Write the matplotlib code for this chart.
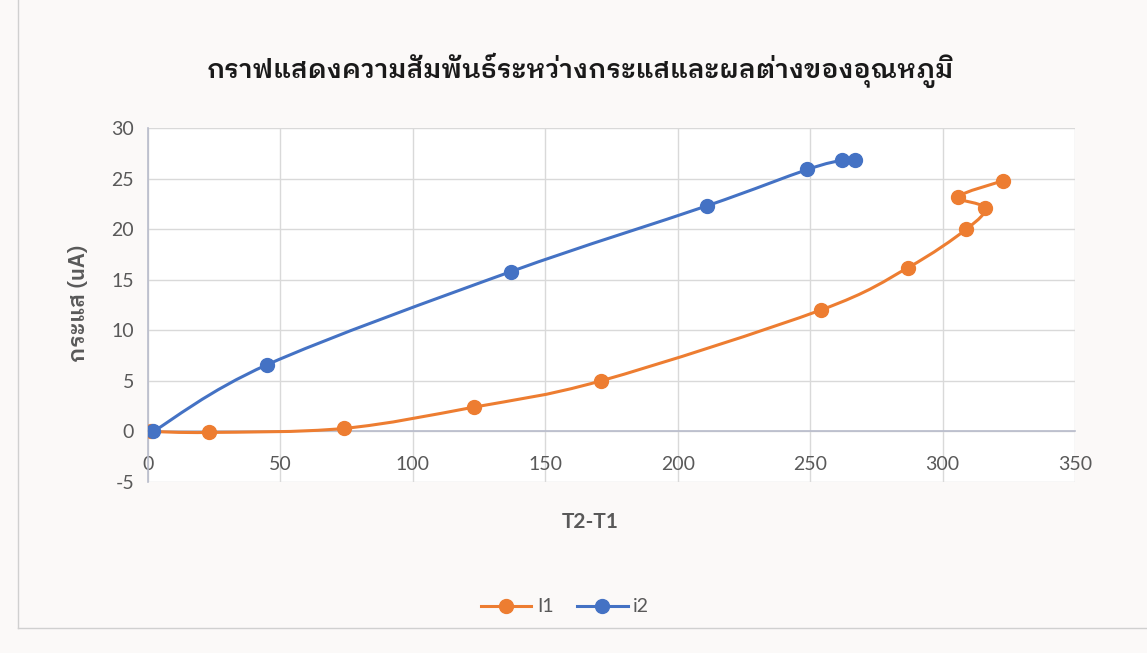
import matplotlib
matplotlib.use("Agg")
import matplotlib.pyplot as plt
from matplotlib import font_manager
from matplotlib.ft2font import FT2Font
from matplotlib.path import Path
from matplotlib.patches import PathPatch
from matplotlib.lines import Line2D

# Series data: temperature difference (T2-T1) vs current (uA)
i1_dt = [1, 23, 74, 123, 171, 254, 287, 309, 316, 306, 323]
i1_cur = [0, -0.1, 0.3, 2.4, 5.0, 12.0, 16.2, 20.0, 22.1, 23.2, 24.8]
i2_dt = [2, 45, 137, 211, 249, 262, 267]
i2_cur = [0, 6.6, 15.8, 22.3, 25.9, 26.8, 26.8]

x_ticks = [0, 50, 100, 150, 200, 250, 300, 350]
y_ticks = [-5, 0, 5, 10, 15, 20, 25, 30]

title = "กราฟแสดงความสัมพันธ์ระหว่างกระแสและผลต่างของอุณหภูมิ"
xlabel = "T2-T1"
ylabel = "กระแส (uA)"

ORANGE = "#ED7D31"
BLUE = "#4472C4"


def thai_font():
    # pick a Thai-capable font whose vowel/tone marks have zero advance,
    # preferring a bold face
    best, best_score = None, -1
    for path in font_manager.findSystemFonts():
        try:
            ft = FT2Font(path)
            if 0x0E01 not in ft.get_charmap():
                continue
            ft.set_size(12, 72)
            g = ft.load_char(0x0E34)
            score = 10 if g.horiAdvance == 0 else 0
            prop = font_manager.FontProperties(fname=path)
            name = font_manager.get_font(path).style_name.lower()
            if "bold" in name:
                score += 2
            if "sans" in prop.get_name().lower():
                score += 1
            if "mono" in prop.get_name().lower():
                score -= 5
            if score > best_score:
                best, best_score = path, score
        except Exception:
            continue
    if best is None:
        return font_manager.FontProperties(family="DejaVu Sans")
    return font_manager.FontProperties(fname=best)


THAI = thai_font()
plt.rcParams["font.family"] = ["Lato", "DejaVu Sans"]
plt.rcParams["axes.unicode_minus"] = False


def smooth_path(xs, ys):
    # Excel-style smoothed line: cubic Bezier through every point
    pts = list(zip(xs, ys))
    verts = [pts[0]]
    codes = [Path.MOVETO]
    n = len(pts)
    for i in range(n - 1):
        p0 = pts[i - 1] if i > 0 else pts[i]
        p1 = pts[i]
        p2 = pts[i + 1]
        p3 = pts[i + 2] if i + 2 < n else pts[i + 1]
        c1 = (p1[0] + (p2[0] - p0[0]) / 6, p1[1] + (p2[1] - p0[1]) / 6)
        c2 = (p2[0] - (p3[0] - p1[0]) / 6, p2[1] - (p3[1] - p1[1]) / 6)
        verts += [c1, c2, p2]
        codes += [Path.CURVE4] * 3
    return Path(verts, codes)


fig = plt.figure(figsize=(11.47, 6.53), dpi=100, facecolor="#fbf9f8")
ax = fig.add_axes([148 / 1147, 1 - 482 / 653, 927 / 1147, 354 / 653])
ax.set_facecolor("white")

for xs, ys, color, name in [(i1_dt, i1_cur, ORANGE, "I1"), (i2_dt, i2_cur, BLUE, "i2")]:
    ax.add_patch(PathPatch(smooth_path(xs, ys), facecolor="none", edgecolor=color,
                           lw=2.2, zorder=3))
    ax.plot(xs, ys, ls="none", marker="o", ms=10, color=color, zorder=4)
    # legend proxy
    ax.plot([], [], color=color, lw=2.2, marker="o", ms=10, label=name)

ax.set_xlim(0, 350)
ax.set_ylim(-5, 30)
ax.set_xticks(x_ticks)
ax.set_yticks(y_ticks)
ax.grid(True, color="#d9d9d9", lw=1)
ax.set_axisbelow(True)

for side in ["top", "right"]:
    ax.spines[side].set_visible(False)
ax.spines["bottom"].set_position(("data", 0))
ax.spines["bottom"].set_color("#b8bccb")
ax.spines["left"].set_color("#b8bccb")
ax.spines["bottom"].set_linewidth(1.2)
ax.spines["left"].set_linewidth(1.2)
ax.tick_params(axis="both", length=0, labelsize=14, labelcolor="#595959")
ax.tick_params(axis="x", pad=18)
ax.tick_params(axis="y", pad=10)

title_fp = THAI.copy()
title_fp.set_size(19)
title_fp.set_weight("bold")
fig.text(580 / 1147, 1 - 70 / 653, title, ha="center", va="center",
         fontproperties=title_fp, color="#1a1a1a")
fig.text(590 / 1147, 1 - 522 / 653, xlabel, ha="center", va="center", fontsize=15,
         fontweight="bold", color="#595959")
ylabel_fp = THAI.copy()
ylabel_fp.set_size(16)
ylabel_fp.set_weight("bold")
fig.text(78 / 1147, 1 - 303 / 653, ylabel, ha="center", va="center", rotation=90,
         fontproperties=ylabel_fp, color="#595959")

fig.legend(loc="center", bbox_to_anchor=(565 / 1147, 1 - 607 / 653), ncol=2,
           frameon=False, fontsize=14, handlelength=2.6, columnspacing=1.2,
           handletextpad=0.3, labelcolor="#595959")

# chart area border
fig.add_artist(Line2D([18 / 1147, 18 / 1147], [1 - 628 / 653, 1], color="#d0d0d0", lw=1))
fig.add_artist(Line2D([18 / 1147, 1], [1 - 628 / 653, 1 - 628 / 653], color="#d0d0d0", lw=1))

fig.savefig("out.png", dpi=100, facecolor=fig.get_facecolor())
